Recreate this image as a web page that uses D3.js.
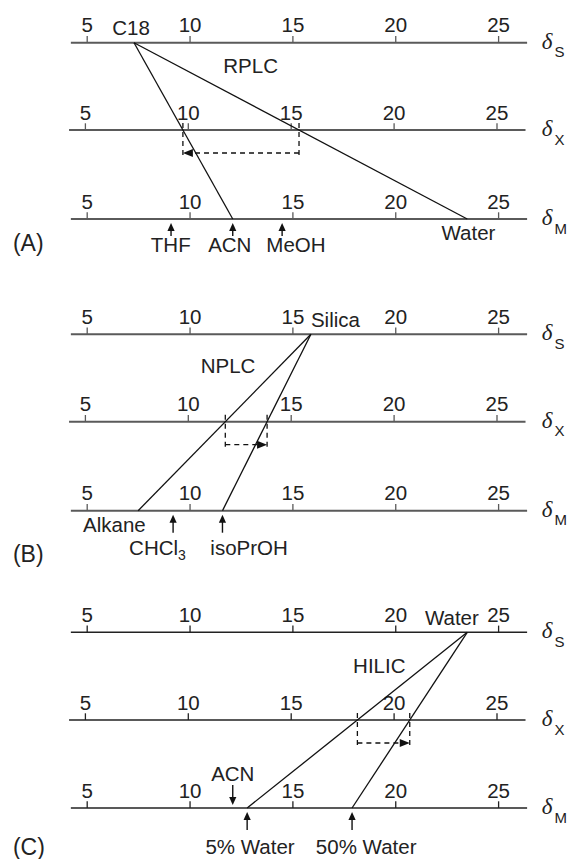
<!DOCTYPE html>
<html><head><meta charset="utf-8">
<script src="https://cdn.jsdelivr.net/npm/d3@7"></script>
<style>body{margin:0;background:#fff} svg{display:block}</style>
</head><body><svg id="chart" width="576" height="859"></svg>
<script>
// ---------- data ----------
const tickValues = [5, 10, 15, 20, 25];
const axisDomain = [4.23, 26.41];
const axisNames = ["S", "X", "M"];
const panelIds = ["(A)", "(B)", "(C)"];
const modeNames = ["RPLC", "NPLC", "HILIC"];
const stationaryNames = ["C18", "Silica", "Water"];
const stationaryDelta = [7.3, 15.9, 23.5];
const weakNames = ["Water", "Alkane", "5% Water"];
const weakDelta = [23.5, 7.5, 12.8];
const strongNames = ["ACN", "isoPrOH", "50% Water"];
const strongDelta = [12.1, 11.6, 17.9];
const markerPanel = [0, 0, 0, 1, 1, 2, 2, 2];
const markerNames = ["THF", "ACN", "MeOH", "CHCl|3", "isoPrOH", "ACN", "5% Water", "50% Water"];
const markerDelta = [9.1, 12.1, 14.5, 9.2, 11.6, 12.1, 12.8, 17.9];
const markerDir = ["up", "up", "up", "up", "up", "down", "up", "up"];

// ---------- layout ----------
const panelAxisY = [[42.7, 130, 219], [334.3, 421.7, 510.7], [632.3, 720, 808]];
const axisStyle = [{c: "#5a5a5a", w: 2}, {c: "#5a5a5a", w: 2}, {c: "#222", w: 1.5}];
const modePos = [[250.6, 73.3], [228, 372.7], [379.3, 672.7]];
const statLab = [{dx: -21.8, dy: -8.2}, {dx: 0, dy: -7.6}, {dx: -42.3, dy: -7.3}];
const weakLab = [{dx: -25.7, dy: 21, show: true}, {dx: -55.1, dy: 21, show: true}, {show: false}];
const markerLab = [
  {dx: -20.2, dy: 33}, {dx: -24.6, dy: 33}, {dx: -15.8, dy: 33},
  {dx: -44, dy: 44}, {dx: -12.1, dy: 44},
  {dx: -21.6, dy: -27.3}, {dx: -41.7, dy: 45.5}, {dx: -36.2, dy: 45.5}];
const markerLen = [13, 13, 13, 18, 18, 20, 18, 18];
const panelIdY = [250.5, 562, 855];

const FONT = "'Liberation Sans', Arial, Helvetica, sans-serif";
const FS = 20.5;
const TXT = "#222";

const svg = d3.select("#chart");
const x = d3.scaleLinear().domain([5, 25]).range([86.7, 498.1]);
const xX = d3.scaleLinear().domain([5, 25]).range([84.9, 496.5]);

function arrowHead(g, tx, ty, dir, len, half) {
  let pts;
  if (dir === "up") pts = [[tx, ty], [tx - half, ty + len], [tx + half, ty + len]];
  else if (dir === "down") pts = [[tx, ty], [tx - half, ty - len], [tx + half, ty - len]];
  else if (dir === "left") pts = [[tx, ty], [tx + len, ty - half], [tx + len, ty + half]];
  else pts = [[tx, ty], [tx - len, ty - half], [tx - len, ty + half]];
  g.append("path").attr("d", "M" + pts.map(p => p.join(",")).join("L") + "Z").attr("fill", "#111");
}

panelIds.forEach((pid, p) => {
  const g = svg.append("g");
  const ys = panelAxisY[p];
  const st = axisStyle[p];
  // axes
  ys.forEach((yy, a) => {
    const sc = a === 1 ? xX : x;
    const ax = g.append("g").attr("transform", `translate(0,${yy})`);
    ax.append("line").attr("x1", sc(axisDomain[0])).attr("x2", sc(axisDomain[1]))
      .attr("stroke", st.c).attr("stroke-width", st.w);
    const axis = d3.axisTop(sc).tickValues(tickValues).tickSize(6.7).tickSizeOuter(0).tickPadding(3.8);
    const axg = ax.append("g").call(axis);
    axg.select(".domain").remove();
    axg.selectAll(".tick line").attr("stroke", st.c).attr("stroke-width", 1.3);
    axg.selectAll(".tick text").attr("font-family", FONT).attr("font-size", FS).attr("fill", TXT);
    // delta label
    const t = ax.append("text").attr("x", 541.8).attr("y", 6).attr("fill", TXT);
    t.append("tspan").attr("font-family", "'Liberation Serif', 'Times New Roman', serif")
      .attr("font-style", "italic").attr("font-size", 23).text("δ");
    ax.append("text").attr("x", 554.6).attr("y", 14.5).attr("font-family", FONT)
      .attr("font-size", 15).attr("fill", TXT).text(axisNames[a]);
  });
  const [yS, yXa, yM] = ys;
  const sx = x(stationaryDelta[p]);
  const ends = [weakDelta[p], strongDelta[p]];
  const cross = ends.map(v => {
    const ex = x(v);
    const t = (yXa - yS) / (yM - yS);
    return sx + t * (ex - sx);
  });
  // connecting lines
  ends.forEach(v => {
    g.append("line").attr("x1", sx).attr("y1", yS).attr("x2", x(v)).attr("y2", yM)
      .attr("stroke", "#111").attr("stroke-width", 1.3);
  });
  // dashed shift indicator
  const hy = yXa + 23;
  cross.forEach(cx => {
    g.append("line").attr("x1", cx).attr("x2", cx).attr("y1", yXa - 7).attr("y2", yXa + 29)
      .attr("stroke", "#111").attr("stroke-width", 1.3).attr("stroke-dasharray", "5,4");
  });
  const dir = cross[1] < cross[0] ? "left" : "right";
  const headLen = 10;
  const hx2 = dir === "left" ? cross[1] + headLen : cross[1] - headLen;
  g.append("line").attr("x1", cross[0]).attr("x2", hx2).attr("y1", hy).attr("y2", hy)
    .attr("stroke", "#111").attr("stroke-width", 1.3).attr("stroke-dasharray", "5,4");
  arrowHead(g, cross[1], hy, dir, headLen, 4);
  // stationary label
  g.append("text").attr("x", sx + statLab[p].dx).attr("y", yS + statLab[p].dy)
    .attr("font-family", FONT).attr("font-size", FS).attr("fill", TXT).text(stationaryNames[p]);
  // weak end label
  if (weakLab[p].show) {
    g.append("text").attr("x", x(weakDelta[p]) + weakLab[p].dx).attr("y", yM + weakLab[p].dy)
      .attr("font-family", FONT).attr("font-size", FS).attr("fill", TXT).text(weakNames[p]);
  }
  // mode label
  g.append("text").attr("x", modePos[p][0]).attr("y", modePos[p][1]).attr("text-anchor", "middle")
    .attr("font-family", FONT).attr("font-size", FS).attr("fill", TXT).text(modeNames[p]);
  // panel id
  g.append("text").attr("x", 12.9).attr("y", panelIdY[p])
    .attr("font-family", FONT).attr("font-size", 23).attr("fill", TXT).text(pid);
});

// solvent markers
markerNames.forEach((name, i) => {
  const p = markerPanel[i];
  const yM = panelAxisY[p][2];
  const mx = x(markerDelta[i]);
  const len = markerLen[i];
  const g = svg.append("g");
  if (markerDir[i] === "up") {
    const tip = yM + 4;
    g.append("line").attr("x1", mx).attr("x2", mx).attr("y1", tip + 6).attr("y2", tip + len)
      .attr("stroke", "#111").attr("stroke-width", 1.4);
    arrowHead(g, mx, tip, "up", 8, 3.6);
  } else {
    const tip = yM - 3;
    g.append("line").attr("x1", mx).attr("x2", mx).attr("y1", tip - 6).attr("y2", tip - len)
      .attr("stroke", "#111").attr("stroke-width", 1.4);
    arrowHead(g, mx, tip, "down", 8, 3.6);
  }
  const lab = markerLab[i];
  const t = g.append("text").attr("x", mx + lab.dx).attr("y", yM + lab.dy)
    .attr("font-family", FONT).attr("font-size", FS).attr("fill", TXT);
  const parts = name.split("|");
  t.append("tspan").text(parts[0]);
  if (parts[1]) t.append("tspan").attr("font-size", 14).attr("dy", 5).text(parts[1]);
});
</script></body></html>
